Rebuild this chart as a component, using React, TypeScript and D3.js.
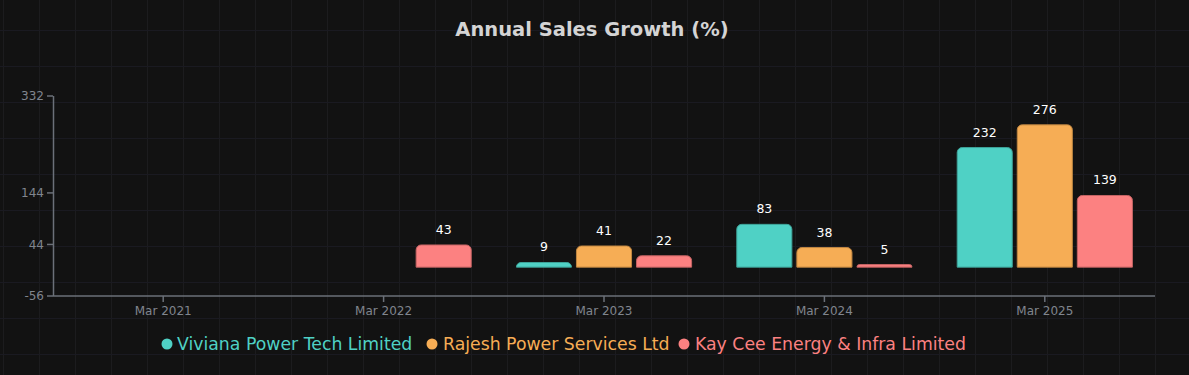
import React from "react";
import * as d3 from "d3";

const categories = ["Mar 2021", "Mar 2022", "Mar 2023", "Mar 2024", "Mar 2025"];
const seriesNames = ["Viviana Power Tech Limited", "Rajesh Power Services Ltd", "Kay Cee Energy & Infra Limited"];
const seriesColors = ["#4FD1C5", "#F6AD55", "#FC8181"];
const vivianaValues: (number | null)[] = [null, null, 9, 83, 232];
const rajeshValues: (number | null)[] = [null, null, 41, 38, 276];
const kayCeeValues: (number | null)[] = [null, 43, 22, 5, 139];
const yTicks = [-56, 44, 144, 332];
const title = "Annual Sales Growth (%)";

const W = 1189;
const H = 375;
const FONT = "'DejaVu Sans', sans-serif";

function topRoundedRect(x: number, y: number, w: number, h: number, r: number) {
  const rr = Math.min(r, h, w / 2);
  const p = d3.path();
  p.moveTo(x, y + h);
  p.lineTo(x, y + rr);
  p.arcTo(x, y, x + rr, y, rr);
  p.lineTo(x + w - rr, y);
  p.arcTo(x + w, y, x + w, y + rr, rr);
  p.lineTo(x + w, y + h);
  p.closePath();
  return p.toString();
}

export default function App() {
  const left = 53, right = 1155, top = 96, bottom = 296;
  const y = d3.scaleLinear().domain([-56, 332]).range([bottom, top]);
  const x0 = d3.scaleBand<string>().domain(categories).range([left, right]);
  const groupW = x0.bandwidth() * 0.795;
  const x1 = d3.scaleBand<string>().domain(seriesNames).range([0, groupW]).paddingInner(0.083);
  const allValues = [vivianaValues, rajeshValues, kayCeeValues];

  const vLines = d3.range(3, W, 36);
  const hLines = d3.range(30, H, 36);

  const legendItems = [
    { dot: 167, text: 177 },
    { dot: 432, text: 443 },
    { dot: 684, text: 695 },
  ];

  return (
    <svg width={W} height={H} style={{ position: "fixed", left: 0, top: 0, display: "block" }}>
      <rect x={0} y={0} width={W} height={H} fill="#121212" />
      {vLines.map((v) => (
        <line key={"v" + v} x1={v + 0.5} x2={v + 0.5} y1={0} y2={H} stroke="#1c1c1e" strokeWidth={1} />
      ))}
      {hLines.map((v) => (
        <line key={"h" + v} x1={0} x2={W} y1={v + 0.5} y2={v + 0.5} stroke="#1a1a21" strokeWidth={1} />
      ))}
      <text x={592} y={36} textAnchor="middle" fill="#d4d4d4" fontFamily={FONT} fontWeight="bold" fontSize={19.5}>
        {title}
      </text>

      {/* y axis */}
      <line x1={left + 0.5} x2={left + 0.5} y1={top} y2={bottom} stroke="#6b7079" strokeWidth={1.5} />
      {yTicks.map((t) => (
        <g key={"yt" + t}>
          <line x1={left - 6} x2={left} y1={y(t)} y2={y(t)} stroke="#6b7079" strokeWidth={1.5} />
          <text x={left - 9} y={y(t)} dy="0.35em" textAnchor="end" fill="#80858e" fontFamily={FONT} fontSize={12}>
            {t}
          </text>
        </g>
      ))}
      {/* x axis */}
      <line x1={left} x2={right} y1={bottom} y2={bottom} stroke="#6b7079" strokeWidth={1.5} />
      {categories.map((c) => {
        const cx = (x0(c) as number) + x0.bandwidth() / 2;
        return (
          <g key={"xt" + c}>
            <line x1={cx} x2={cx} y1={bottom} y2={bottom + 6} stroke="#6b7079" strokeWidth={1.5} />
            <text x={cx} y={315} textAnchor="middle" fill="#80858e" fontFamily={FONT} fontSize={12}>
              {c}
            </text>
          </g>
        );
      })}

      {/* bars */}
      {categories.map((c, ci) => {
        const gx = (x0(c) as number) + (x0.bandwidth() - groupW) / 2;
        return (
          <g key={"g" + c}>
            {seriesNames.map((s, si) => {
              const v = allValues[si][ci];
              if (v == null) return null;
              const bx = gx + (x1(s) as number);
              const bw = x1.bandwidth();
              const y0 = y(0);
              const yv = y(v);
              const color = seriesColors[si];
              return (
                <g key={s}>
                  <path
                    d={topRoundedRect(bx, yv, bw, y0 - yv, 5)}
                    fill={color}
                    stroke={d3.color(color)!.darker(0.7).toString()}
                    strokeWidth={1}
                  />
                  <text x={bx + bw / 2} y={yv - 11} textAnchor="middle" fill="#ffffff" fontFamily={FONT} fontSize={12.5}>
                    {v}
                  </text>
                </g>
              );
            })}
          </g>
        );
      })}

      {/* legend */}
      {seriesNames.map((s, i) => (
        <g key={"lg" + s}>
          <circle cx={legendItems[i].dot} cy={344} r={5.5} fill={seriesColors[i]} />
          <text x={legendItems[i].text} y={344} dy="0.35em" fill={seriesColors[i]} fontFamily={FONT} fontSize={17.3}>
            {s}
          </text>
        </g>
      ))}
    </svg>
  );
}
